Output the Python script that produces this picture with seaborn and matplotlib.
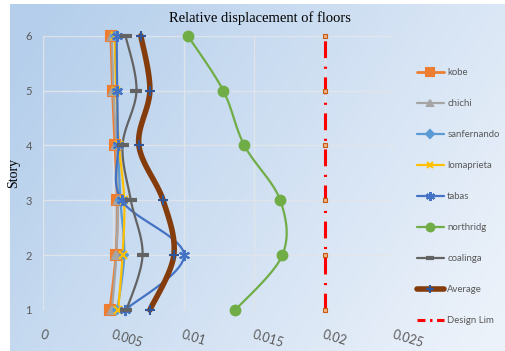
import numpy as np
import pandas as pd
import matplotlib
matplotlib.use("Agg")
import matplotlib.pyplot as plt
from matplotlib.lines import Line2D
import seaborn as sns

stories = [1, 2, 3, 4, 5, 6]
kobe = [0.00475, 0.00518, 0.00527, 0.00511, 0.00494, 0.00482]
chichi = [0.0049, 0.0052, 0.0053, 0.0052, 0.0050, 0.0049]
sanfernando = [0.00527, 0.00577, 0.0055, 0.00534, 0.00523, 0.0051]
lomaprieta = [0.00534, 0.00565, 0.00577, 0.0054, 0.0052, 0.0051]
tabas = [0.00582, 0.01002, 0.00558, 0.00534, 0.00527, 0.00523]
northridg = [0.01366, 0.0170, 0.01685, 0.0143, 0.0128, 0.01028]
coalinga = [0.00593, 0.00707, 0.00624, 0.00565, 0.00664, 0.00586]
average = [0.00759, 0.00929, 0.00853, 0.00681, 0.00759, 0.00695]
design_lim = [0.02, 0.02, 0.02, 0.02, 0.02, 0.02]
x_ticks = [0, 0.005, 0.01, 0.015, 0.02, 0.025]
x_tick_labels = ["0", "0.005", "0.01", "0.015", "0.02", "0.025"]

sns.set_theme(style="white")
plt.rcParams['font.family'] = ['Lato', 'DejaVu Sans']

W, H = 505, 351
fig = plt.figure(figsize=(W / 100, H / 100), dpi=100)

# gradient background
bg = fig.add_axes([0, 0, 1, 1], zorder=-10)
bg.set_axis_off()
xs = np.linspace(0, 1, 300)
ys = np.linspace(0, 1, 200)
X, Y = np.meshgrid(xs, ys)
t = np.clip(0.75 * X + 0.35 * Y - 0.05, 0, 1)
c0 = np.array([180, 206, 235]) / 255
c1 = np.array([236, 242, 250]) / 255
img = c0[None, None, :] * (1 - t[..., None]) + c1[None, None, :] * t[..., None]
bg.imshow(img, extent=[10 / W, 1, 0, 1 - 4 / H], aspect='auto', origin='upper')
bg.set_xlim(0, 1)
bg.set_ylim(0, 1)

ax = fig.add_axes([43 / W, 1 - 310 / H, (395 - 43) / W, (310 - 35.7) / H])
ax.patch.set_alpha(0)


def smooth(xv, yv, n=20):
    P = np.column_stack([xv, yv]).astype(float)
    sx, sy = 0.025 / 352.0, 1.0 / 55.0
    Q = P / np.array([sx, sy])
    pts = [Q[0]] + list(Q) + [Q[-1]]
    out = []
    for i in range(1, len(pts) - 2):
        p0, p1, p2, p3 = pts[i - 1], pts[i], pts[i + 1], pts[i + 2]
        c1_ = p1 + (p2 - p0) / 6.0
        c2_ = p2 - (p3 - p1) / 6.0
        tt = np.linspace(0, 1, n, endpoint=(i == len(pts) - 3))[:, None]
        seg = ((1 - tt) ** 3) * p1 + 3 * ((1 - tt) ** 2) * tt * c1_ + 3 * (1 - tt) * tt ** 2 * c2_ + tt ** 3 * p2
        out.append(seg)
    S = np.vstack(out) * np.array([sx, sy])
    return S[:, 0], S[:, 1]


series = [
    ("kobe", kobe, "#ED7D31", 2.0, "s", 6.5, None),
    ("chichi", chichi, "#A5A5A5", 1.6, "^", 6, None),
    ("sanfernando", sanfernando, "#5B9BD5", 1.6, "D", 4.5, None),
    ("lomaprieta", lomaprieta, "#FFC000", 1.6, "x", 6, None),
    ("tabas", tabas, "#4472C4", 1.6, (6, 2, 0), 8, None),
    ("northridg", northridg, "#70AD47", 1.6, "o", 7, None),
    ("coalinga", coalinga, "#636363", 1.6, "_", 8, None),
    ("Average", average, "#843C0C", 4.0, "+", 7, "#2F5597"),
]

handles = []
for name, vals, col, lw, mk, ms, mcol in series:
    sx_, sy_ = smooth(vals, stories)
    df = pd.DataFrame({"x": sx_, "y": sy_})
    sns.lineplot(data=df, x="x", y="y", sort=False, estimator=None, color=col,
                 lw=lw, ax=ax, clip_on=False)
    mc = mcol if mcol else col
    mew = 3 if mk == "_" else 1.5
    dfm = pd.DataFrame({"x": vals, "y": stories})
    ax.plot(dfm["x"], dfm["y"], linestyle="none", marker=mk, ms=ms, color=mc,
            mec=mc, mfc=mc, mew=mew, clip_on=False, zorder=4)
    handles.append(Line2D([], [], color=col, lw=lw, marker=mk, ms=ms * 0.8,
                          mfc=mc, mec=mc, mew=mew))

dls = (0, (5.5, 2.8, 0.7, 2.8))
dfd = pd.DataFrame({"x": design_lim, "y": stories})
sns.lineplot(data=dfd, x="x", y="y", sort=False, estimator=None, color="#FF0000",
             lw=2.2, ax=ax, clip_on=False, zorder=5)
ax.lines[-1].set_linestyle(dls)
ax.plot(dfd["x"], dfd["y"], linestyle="none", marker="s", ms=3, mfc="#F4B183",
        mec="#C55A11", mew=0.8, clip_on=False, zorder=6)
handles.append(Line2D([], [], color="#FF0000", lw=2.2, linestyle=(0, (2.6, 1.5, 0.8, 1.5))))

ax.set_xlim(0, 0.025)
ax.set_ylim(1, 6)
ax.set_xticks(x_ticks)
ax.set_xticklabels(x_tick_labels, rotation=-17, ha="left", rotation_mode="anchor",
                   color="#595959", fontsize=9)
ax.set_yticks(stories)
ax.set_yticklabels([str(s) for s in stories], color="#595959", fontsize=8)
ax.tick_params(axis="x", length=0, pad=13)
ax.tick_params(axis="y", length=0, pad=8)
ax.grid(True, color="#E3E6EA", lw=1.0, alpha=0.9)
ax.set_axisbelow(True)
for sp in ax.spines.values():
    sp.set_visible(False)
ax.set_xlabel("")
ax.set_ylabel("Story", family=["Liberation Serif", "DejaVu Serif"], fontsize=10,
              color="black", labelpad=4)

fig.text(260 / W, 1 - 18 / H, "Relative displacement of floors",
         family=["Liberation Serif", "DejaVu Serif"], fontsize=10.5,
         ha="center", va="center", color="black")

labels = [s[0] for s in series] + ["Design Lim"]
leg = fig.legend(handles, labels, loc="upper left",
                 bbox_to_anchor=(417 / W, 1 - 68 / H), frameon=False,
                 prop={"family": ["Lato"], "size": 6.9},
                 handlelength=2.8, handletextpad=0.35,
                 labelspacing=2.3, borderaxespad=0, borderpad=0)
for txt in leg.get_texts():
    txt.set_color("#595959")

fig.savefig("out.png", dpi=100)
